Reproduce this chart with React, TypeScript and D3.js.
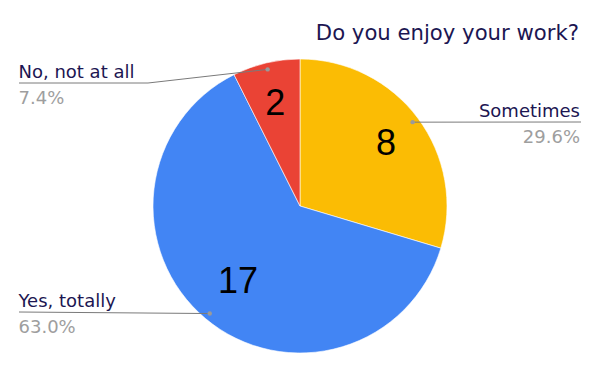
import React from "react";
import * as d3 from "d3";

const categories = ["Sometimes", "Yes, totally", "No, not at all"];
const values = [8, 17, 2];
const colors = ["#FBBC04", "#4285F4", "#EA4335"];
const title = "Do you enjoy your work?";

const W = 600;
const H = 371;
const cx = 300;
const cy = 206;
const R = 147;

// label layout
const labelSide = ["right", "left", "left"];
const lineY = [122, 312, 83];
const numRadius = [0.73, 0.657, 0.727];

export default function App() {
  const total = d3.sum(values);
  const pie = d3.pie<number>().sort(null).value((d) => d)(values);
  const arc = d3.arc<d3.PieArcDatum<number>>().innerRadius(0).outerRadius(R);
  const dotArc = d3.arc<d3.PieArcDatum<number>>().innerRadius(R * 0.955).outerRadius(R * 0.955);
  const fmt = d3.format(".1%");

  return (
    <svg width={W} height={H} style={{ position: "absolute", left: 0, top: 0 }}>
      <rect width={W} height={H} fill="#fff" />
      <text x={579} y={40} textAnchor="end" fontFamily="DejaVu Sans" fontSize={21.2} fill="#1c1652">
        {title}
      </text>
      <g transform={`translate(${cx},${cy})`}>
        {pie.map((p, i) => (
          <path key={i} d={arc(p) || ""} fill={colors[i]} stroke="#fff" strokeWidth={0.6} />
        ))}
        {pie.map((p, i) => {
          const rr = R * numRadius[i];
          const [x, y] = d3.arc<d3.PieArcDatum<number>>().innerRadius(rr).outerRadius(rr).centroid(p);
          return (
            <text key={i} x={x} y={y} dy="0.36em" textAnchor="middle" fontFamily="Liberation Sans, Arial" fontSize={36} fill="#000">
              {values[i]}
            </text>
          );
        })}
      </g>
      {pie.map((p, i) => {
        const [dx, dy] = dotArc.centroid(p);
        const x0 = cx + dx;
        const y0 = cy + dy;
        const ly = lineY[i];
        const right = labelSide[i] === "right";
        const xEnd = right ? 581 : 19;
        let pts: [number, number][];
        if (right) pts = [[x0, y0], [xEnd, ly]];
        else if (Math.abs(y0 - ly) < 2) pts = [[x0, y0], [xEnd, ly]];
        else pts = [[x0, y0], [148, ly], [xEnd, ly]];
        const line = d3.line()(pts) || "";
        return (
          <g key={i}>
            <path d={line} fill="none" stroke="#7a7a7a" strokeWidth={1} />
            <circle cx={x0} cy={y0} r={2.2} fill="#9a9a9a" />
            <text
              x={right ? 580 : 18.5}
              y={ly - 5.5}
              textAnchor={right ? "end" : "start"}
              fontFamily="DejaVu Sans"
              fontSize={18}
              fill="#1c1652"
            >
              {categories[i]}
            </text>
            <text
              x={right ? 580 : 18.5}
              y={ly + 20.5}
              textAnchor={right ? "end" : "start"}
              fontFamily="DejaVu Sans"
              fontSize={18}
              fill="#9e9e9e"
            >
              {fmt(values[i] / total)}
            </text>
          </g>
        );
      })}
    </svg>
  );
}
